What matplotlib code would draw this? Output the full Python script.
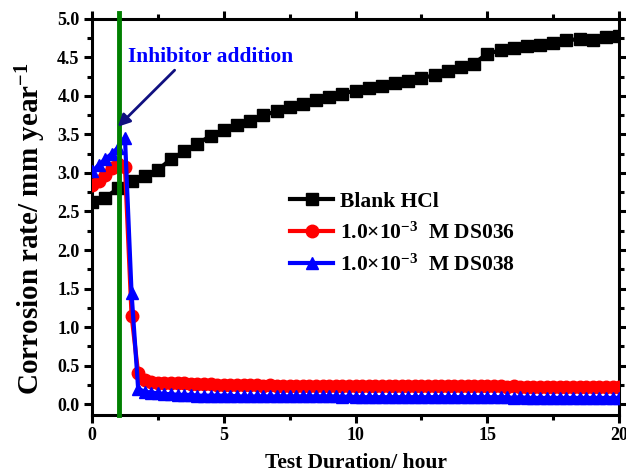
"""
Corrosion rate vs test duration, blank HCl and two inhibitors
"""
import numpy as np
import matplotlib
matplotlib.use('Agg')
import matplotlib.pyplot as plt

plt.rcParams['font.family'] = ['Liberation Serif', 'DejaVu Serif']
plt.rcParams['font.weight'] = 'bold'
plt.rcParams['mathtext.fontset'] = 'custom'
plt.rcParams['mathtext.rm'] = 'Liberation Serif:bold'
plt.rcParams['mathtext.bf'] = 'Liberation Serif:bold'
plt.rcParams['mathtext.default'] = 'bf'

# Data
hours_blank = np.arange(0, 20.01, 0.5)
rate_blank = [2.62, 2.68, 2.80, 2.90, 2.96, 3.04, 3.18, 3.28, 3.38, 3.48,
              3.56, 3.62, 3.68, 3.75, 3.80, 3.85, 3.90, 3.95, 3.99, 4.03,
              4.07, 4.10, 4.13, 4.17, 4.20, 4.23, 4.27, 4.32, 4.37, 4.42,
              4.55, 4.59, 4.62, 4.65, 4.66, 4.69, 4.72, 4.74, 4.73, 4.76,
              4.78]

hours_inh = np.arange(0, 20.01, 0.25)
rate_ds036 = [2.85, 2.90, 2.98, 3.07, 3.12, 3.08, 1.15, 0.40, 0.31, 0.29,
              0.28, 0.28, 0.27, 0.27, 0.27, 0.26, 0.26, 0.26, 0.26, 0.25,
              0.25,
              0.25, 0.25, 0.25, 0.25, 0.25, 0.24, 0.25, 0.24, 0.24, 0.24,
              0.24, 0.24, 0.24, 0.24, 0.24, 0.24, 0.24, 0.24, 0.24, 0.24,
              0.24, 0.23, 0.24, 0.23, 0.23, 0.23, 0.23, 0.23, 0.23, 0.23,
              0.23, 0.23, 0.23, 0.23, 0.23, 0.23, 0.23, 0.23, 0.23, 0.23,
              0.23, 0.23, 0.22, 0.23, 0.22, 0.22, 0.22, 0.22, 0.22, 0.22,
              0.22, 0.22, 0.22, 0.22, 0.22, 0.22, 0.22, 0.22, 0.22, 0.22]
rate_ds038 = [3.02, 3.10, 3.18, 3.25, 3.33, 3.46, 1.44, 0.20, 0.16, 0.15,
              0.14, 0.13, 0.13, 0.12, 0.12, 0.12, 0.11, 0.11, 0.11, 0.11,
              0.11,
              0.11, 0.10, 0.10, 0.10, 0.10, 0.10, 0.10, 0.10, 0.10, 0.10,
              0.10, 0.10, 0.10, 0.10, 0.10, 0.10, 0.10, 0.09, 0.10, 0.09,
              0.09, 0.09, 0.09, 0.09, 0.09, 0.09, 0.09, 0.09, 0.09, 0.09,
              0.09, 0.09, 0.09, 0.09, 0.09, 0.09, 0.09, 0.09, 0.09, 0.09,
              0.09, 0.09, 0.09, 0.08, 0.09, 0.08, 0.08, 0.08, 0.08, 0.08,
              0.08, 0.08, 0.08, 0.08, 0.08, 0.08, 0.08, 0.08, 0.08, 0.08]

addition_time = 1.02
labels = ['Blank HCl', r'1.0×10$^{-3}$  M DS036', r'1.0×10$^{-3}$  M DS038']

fig = plt.figure(figsize=(6.26, 4.72), dpi=100)
ax = fig.add_axes([0.147, 0.121, 0.842, 0.839])

ax.plot(hours_blank, rate_blank, color='black', lw=3, marker='s', ms=8,
        label=labels[0], zorder=3)
ax.plot(hours_inh, rate_ds036, color='red', lw=3, marker='o', ms=9,
        label=labels[1], zorder=4)
ax.plot(hours_inh, rate_ds038, color='blue', lw=3, marker='^', ms=9,
        label=labels[2], zorder=5)

ax.axvline(addition_time, ymin=0, ymax=1.015, color='#008000', lw=3.5,
           clip_on=False, zorder=6)

ax.annotate('Inhibitor addition', xy=(0.98, 3.6), xytext=(1.36, 4.5),
            color='blue', fontsize=15.5, fontweight='bold', va='center',
            arrowprops=dict(arrowstyle='-|>', color='#101080', lw=2,
                            mutation_scale=18, shrinkA=0, shrinkB=0,
                            relpos=(0.3, 0.0)),
            zorder=7)

ax.set_xlim(0, 20)
ax.set_ylim(-0.14, 5.0)
ax.set_xticks([0, 5, 10, 15, 20])
ax.set_xticks(np.arange(0, 20.1, 2.5), minor=True)
ax.set_yticks(np.arange(0, 5.01, 0.5))
ax.set_yticks(np.arange(0, 5.01, 0.25), minor=True)
ax.set_yticklabels([f'{v:.1f}' for v in np.arange(0, 5.01, 0.5)])

for s in ax.spines.values():
    s.set_linewidth(2.2)
ax.tick_params(which='both', direction='out', top=True, right=True,
               labeltop=False, labelright=False, width=2.2)
ax.tick_params(which='major', length=6, labelsize=13, pad=3)
ax.tick_params(which='minor', length=3.5)

ax.set_xlabel('Test Duration/ hour', fontsize=15.5, fontweight='bold', labelpad=6)
ax.set_ylabel(r'Corrosion rate/ mm year$^{-1}$', fontsize=21,
              fontweight='bold')
ax.yaxis.set_label_coords(-0.083, 0.47)

ax.legend(loc='upper left', bbox_to_anchor=(0.36, 0.585), frameon=False,
          fontsize=15.5, handlelength=2.0, handletextpad=0.3, labelspacing=0.5,
          borderaxespad=0)

plt.savefig('out.png', dpi=100)
